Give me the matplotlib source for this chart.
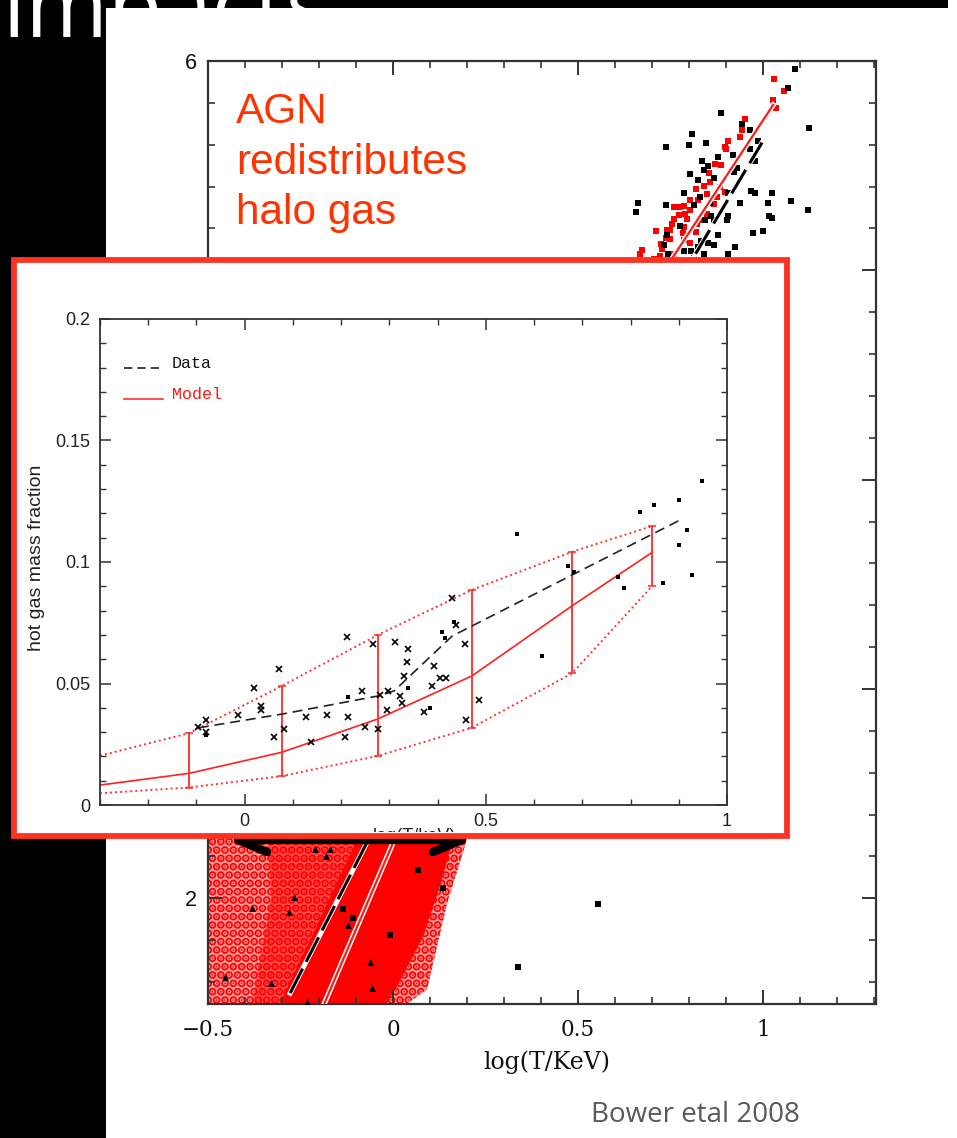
import matplotlib
matplotlib.use("Agg")
import matplotlib.pyplot as plt
from matplotlib.patches import Rectangle, Polygon
from matplotlib.lines import Line2D
from matplotlib.transforms import Bbox, TransformedBbox
from matplotlib.ticker import MultipleLocator

W, H = 957, 1138

# ---------------- main panel data (log Lx vs log T) ----------------
main_xticks = [-0.5, 0, 0.5, 1]
main_xticklabels = ["\u22120.5", "0", "0.5", "1"]
main_yticks = [2, 3, 4, 5, 6]
main_yticklabels = ["2", "3", "4", "5", "6"]
main_xlabel = "log(T/KeV)"

obs_x = [1.086, 1.068, 0.886, 1.124, 0.944, 0.965, 0.807, 0.799, 0.846, 0.738, 0.985, 0.965,
         0.918, 0.878, 0.834, 0.852, 0.839, 0.979, 0.929, 0.803, 0.823, 0.920, 0.866, 0.787,
         0.830, 0.812, 0.906, 0.967, 0.979, 1.023, 0.661, 0.657, 0.737, 0.937, 1.012, 1.075,
         1.120, 1.016, 1.024, 0.906, 0.902, 0.866, 0.860, 0.857, 0.842, 0.776, 0.740, 0.972,
         1.000, 0.878, 0.731, 0.742, 0.832, 0.825, 0.852, 0.866, 0.924, 0.906, 0.805, 0.785,
         0.839, 0.812]
obs_y = [5.96, 5.87, 5.75, 5.68, 5.70, 5.67, 5.65, 5.60, 5.61, 5.59, 5.62, 5.58,
         5.55, 5.54, 5.52, 5.50, 5.48, 5.52, 5.49, 5.46, 5.43, 5.47, 5.44, 5.37,
         5.35, 5.31, 5.37, 5.38, 5.37, 5.37, 5.32, 5.28, 5.31, 5.32, 5.32, 5.33,
         5.29, 5.26, 5.25, 5.26, 5.24, 5.24, 5.26, 5.32, 5.24, 5.21, 5.17, 5.18,
         5.19, 5.17, 5.12, 5.08, 5.14, 5.11, 5.13, 5.12, 5.11, 5.08, 5.09, 5.09,
         5.08, 5.06]

mod_x = [1.030, 1.057, 1.026, 1.035, 0.951, 0.942, 0.937, 0.906, 0.897, 0.900, 0.886, 0.870,
         0.854, 0.857, 0.884, 0.897, 0.839, 0.819, 0.848, 0.803, 0.786, 0.760, 0.776, 0.760,
         0.773, 0.789, 0.794, 0.753, 0.749, 0.740, 0.710, 0.825, 0.803, 0.786, 0.783, 0.749,
         0.737, 0.724, 0.726, 0.674, 0.668, 0.704, 0.722, 0.758, 0.785, 0.803, 0.819, 0.821,
         0.830, 0.848, 0.866, 0.875]
mod_y = [5.914, 5.858, 5.813, 5.774, 5.722, 5.670, 5.638, 5.619, 5.590, 5.579, 5.502, 5.509,
         5.463, 5.423, 5.399, 5.375, 5.404, 5.388, 5.367, 5.335, 5.308, 5.303, 5.303, 5.247,
         5.263, 5.271, 5.247, 5.223, 5.191, 5.191, 5.187, 5.335, 5.287, 5.207, 5.176, 5.152,
         5.156, 5.128, 5.104, 5.099, 5.077, 5.056, 5.067, 5.080, 5.144, 5.131, 5.183, 5.223,
         5.239, 5.271, 5.319, 5.351]

obs_low_sq_x = [-0.136, -0.107, -0.008, 0.067, 0.134, 0.338, 0.554]
obs_low_sq_y = [1.949, 1.906, 1.826, 2.137, 2.050, 1.670, 1.971]
obs_tri_x = [-0.211, -0.170, -0.181, -0.267, -0.382, -0.281, -0.121, -0.062, -0.058, -0.454, -0.330, -0.232]
obs_tri_y = [2.236, 2.236, 2.204, 2.005, 1.954, 1.933, 1.874, 1.694, 1.571, 1.624, 1.595, 1.505]

fit_model_x = [-0.185, 0.0, 0.754, 1.027]
fit_model_y = [1.50, 2.265, 5.057, 5.79]
fit_data_x = [-0.278, -0.071, 0.811, 0.997]
fit_data_y = [1.547, 2.265, 5.06, 5.61]

# extent of the dense cloud of model haloes (outer, intermediate, core)
cloud_outer_x = [-0.5, -0.5, 0.30, 0.200, 0.146, 0.092, 0.040]
cloud_outer_y = [1.5, 2.7, 2.7, 2.282, 1.976, 1.565, 1.5]
cloud_mid_x = [-0.38, -0.33, -0.35, 0.015, -0.305]
cloud_mid_y = [1.5, 2.0, 2.7, 2.7, 1.5]
cloud_core_x = [-0.305, 0.015, 0.25, 0.162, 0.127, 0.081, 0.011, -0.016]
cloud_core_y = [1.5, 2.7, 2.7, 2.282, 2.057, 1.818, 1.579, 1.5]

# ---------------- inset data (hot gas fraction) ----------------
in_xticks = [0, 0.5, 1]
in_xticklabels = ["0", "0.5", "1"]
in_yticks = [0, 0.05, 0.1, 0.15, 0.2]
in_yticklabels = ["0", "0.05", "0.1", "0.15", "0.2"]
in_xlabel = "log(T/keV)"
in_ylabel = "hot gas mass fraction"
legend_labels = ["Data", "Model"]

model_x = [-0.30, -0.116, 0.077, 0.276, 0.471, 0.679, 0.845]
model_y = [0.0082, 0.0130, 0.0217, 0.0354, 0.0531, 0.082, 0.104]
model_hi = [0.0203, 0.0295, 0.049, 0.070, 0.0885, 0.1042, 0.1148]
model_lo = [0.0048, 0.0072, 0.0119, 0.0202, 0.0318, 0.0542, 0.0901]

data_x = [-0.095, 0.077, 0.28, 0.31, 0.43, 0.90]
data_y = [0.0318, 0.0374, 0.045, 0.047, 0.0695, 0.117]

cross_x = [-0.097, -0.081, -0.081, 0.020, -0.014, 0.033, 0.033, 0.071, 0.060, 0.082, 0.127, 0.137,
           0.170, 0.207, 0.214, 0.212, 0.243, 0.250, 0.265, 0.276, 0.281, 0.295, 0.298, 0.311,
           0.322, 0.326, 0.331, 0.336, 0.338, 0.372, 0.388, 0.393, 0.404, 0.418, 0.430, 0.439,
           0.456, 0.459, 0.485]
cross_y = [0.0322, 0.035, 0.030, 0.048, 0.037, 0.0409, 0.0391, 0.0561, 0.0281, 0.0311, 0.0361, 0.0261,
           0.037, 0.0281, 0.0361, 0.069, 0.047, 0.0322, 0.0661, 0.0311, 0.0453, 0.0391, 0.047, 0.0671,
           0.045, 0.0418, 0.0531, 0.059, 0.0641, 0.0381, 0.0491, 0.057, 0.0521, 0.0521, 0.085, 0.0741,
           0.0661, 0.035, 0.0432]
sq_x = [-0.081, 0.214, 0.338, 0.385, 0.409, 0.416, 0.433, 0.670, 0.682, 0.775, 0.786, 0.867,
        0.928, 0.616, 0.564, 0.820, 0.848, 0.901, 0.948, 0.917, 0.900]
sq_y = [0.029, 0.0443, 0.0483, 0.0398, 0.0711, 0.0689, 0.0754, 0.0984, 0.096, 0.0937, 0.0892, 0.0915,
        0.0947, 0.0613, 0.1115, 0.1204, 0.1235, 0.1255, 0.1335, 0.1132, 0.107]

annotation_lines = ["AGN", "redistributes", "halo gas"]
credit = "Bower etal 2008"
title_fragment = "impacts"


def fx(px):
    return px / W


def fy(py):
    return 1 - py / H


plt.rcParams['hatch.linewidth'] = 4.2
fig = plt.figure(figsize=(W / 100, H / 100), dpi=100, facecolor="black")

# slide title fragment (white on black): only the lower part of the glyphs shows
t = fig.text(fx(3), fy(37), title_fragment, color="white", fontsize=64,
             family="Open Sans", va="baseline", ha="left", zorder=0.2)
t.set_clip_box(TransformedBbox(Bbox([[0, fy(37)], [1, 1]]), fig.transFigure))
t.set_clip_on(True)

# white slide picture area
fig.add_artist(Rectangle((fx(106), 0), 1 - fx(106), fy(8), transform=fig.transFigure,
                         facecolor="white", edgecolor="none", zorder=0.5))
fig.add_artist(Rectangle((fx(948), fy(8)), 1 - fx(948), 8 / H, transform=fig.transFigure,
                         facecolor="white", edgecolor="none", zorder=0.5))

# ---------------- main axes ----------------
ax = fig.add_axes([fx(208), fy(1004), (876 - 208) / W, (1004 - 61) / H], zorder=1)
ax.set_xlim(-0.5, 1.305)
ax.set_ylim(1.495, 6)

ax.add_patch(Polygon(list(zip(cloud_outer_x, cloud_outer_y)), closed=True,
                     facecolor="#ff9a9a", edgecolor="red", hatch="..", lw=0, zorder=1))
ax.add_patch(Polygon(list(zip(cloud_mid_x, cloud_mid_y)), closed=True,
                     facecolor="#ff4a4a", edgecolor="red", hatch="..", lw=0, zorder=1.1))
ax.add_patch(Polygon(list(zip(cloud_core_x, cloud_core_y)), closed=True,
                     facecolor="red", edgecolor="none", lw=0, zorder=1.2))

ax.scatter(mod_x, mod_y, marker="s", s=20, color="red", linewidths=0, zorder=2)
ax.scatter(obs_x, obs_y, marker="s", s=18, color="black", linewidths=0, zorder=2.5)

ax.plot(fit_model_x, fit_model_y, color="white", lw=3.8, zorder=3)
ax.plot(fit_model_x, fit_model_y, color="#ff1a1a", lw=1.6, zorder=3.1)
ax.plot(fit_data_x, fit_data_y, color="white", lw=3.6, zorder=3.2)
ax.plot(fit_data_x, fit_data_y, color="black", lw=2.2, dashes=(9, 2.5), zorder=3.3)

ax.scatter(obs_tri_x, obs_tri_y, marker="^", s=24, color="black", linewidths=0, zorder=4)
ax.scatter(obs_low_sq_x, obs_low_sq_y, marker="s", s=18, color="black", linewidths=0, zorder=4)

ax.set_xticks(main_xticks, main_xticklabels, family="DejaVu Serif", fontsize=15.5)
ax.set_yticks(main_yticks, main_yticklabels, family="Liberation Sans", fontsize=15.5)
ax.xaxis.set_minor_locator(MultipleLocator(0.1))
ax.yaxis.set_minor_locator(MultipleLocator(0.2))
ax.tick_params(which="both", direction="in", top=True, right=True, color="#333333",
               labelcolor="#111111")
ax.tick_params(which="major", length=10, width=1.4)
ax.tick_params(which="minor", length=5, width=1.2)
ax.tick_params(axis="x", pad=11)
ax.tick_params(axis="y", pad=8)
for sp in ax.spines.values():
    sp.set_linewidth(1.6)
    sp.set_color("#333333")

fig.text(fx(547), fy(1062), main_xlabel, family="DejaVu Serif", fontsize=17,
         ha="center", va="center", color="#111111", zorder=5)

for i, line in enumerate(annotation_lines):
    fig.text(fx(236), fy(123 + 50.5 * i), line, color="#FF3300", fontsize=30.5,
             family="Liberation Sans", ha="left", va="baseline", zorder=5)

fig.text(fx(695), fy(1122), credit, color="#595959", fontsize=20, family="Open Sans",
         ha="center", va="baseline", zorder=5)

# black bracket shape below the inset frame
fig.add_artist(Line2D([fx(267), fx(238), fx(462), fx(433)],
                      [fy(852), fy(840), fy(840), fy(852)],
                      transform=fig.transFigure, color="black", lw=6,
                      solid_capstyle="round", solid_joinstyle="round", zorder=1.5))

# inset panel with red frame
fig.add_artist(Rectangle((fx(14), fy(835.5)), (786.5 - 14) / W, (835.5 - 259.5) / H,
                         transform=fig.transFigure, facecolor="white", edgecolor="#FF3322",
                         lw=4.2, zorder=2))

# ---------------- inset axes ----------------
ai = fig.add_axes([fx(100), fy(805), (727 - 100) / W, (805 - 319) / H], zorder=3)
ai.set_xlim(-0.3, 1.0)
ai.set_ylim(0, 0.2)

ai.plot(model_x, model_hi, color="#ff3030", lw=1.4, ls=(0, (1, 1.6)), zorder=2)
ai.plot(model_x, model_lo, color="#ff3030", lw=1.4, ls=(0, (1, 1.6)), zorder=2)
ai.plot(model_x, model_y, color="#ff2020", lw=1.2, zorder=2.5)
for xv, lo, hi in zip(model_x[1:], model_lo[1:], model_hi[1:]):
    ai.errorbar([xv], [(lo + hi) / 2], yerr=[[(hi - lo) / 2], [(hi - lo) / 2]], fmt="none",
                ecolor="#ff2a2a", elinewidth=1.3, capsize=3, capthick=1.1, zorder=2.6)
ai.plot(data_x, data_y, color="#222222", lw=1.2, dashes=(6, 3.5), zorder=3)
ai.plot(cross_x, cross_y, ls="none", marker="x", ms=4.5, mew=1.2, color="black", zorder=4)
ai.plot(sq_x, sq_y, ls="none", marker="s", ms=2.8, mew=0, color="black", zorder=4)

# legend
ai.plot([0.038, 0.094], [0.899, 0.899], transform=ai.transAxes, color="#222222", lw=1.2,
        dashes=(5, 3))
ai.plot([0.038, 0.100], [0.835, 0.835], transform=ai.transAxes, color="#ff3030", lw=1.2)
ai.text(0.115, 0.909, legend_labels[0], transform=ai.transAxes, family="Liberation Mono",
        fontsize=12, color="#111111", va="center", ha="left")
ai.text(0.115, 0.844, legend_labels[1], transform=ai.transAxes, family="Liberation Mono",
        fontsize=12, color="#ff1a1a", va="center", ha="left")

ai.set_xticks(in_xticks, in_xticklabels, family="Liberation Sans", fontsize=13)
ai.set_yticks(in_yticks, in_yticklabels, family="Liberation Sans", fontsize=13)
ai.xaxis.set_minor_locator(MultipleLocator(0.1))
ai.yaxis.set_minor_locator(MultipleLocator(0.01))
ai.tick_params(which="both", direction="in", top=True, right=True, color="#333333",
               labelcolor="#222222")
ai.tick_params(which="major", length=8, width=1.1)
ai.tick_params(which="minor", length=4, width=1.0)
ai.tick_params(axis="x", pad=6)
ai.tick_params(axis="y", pad=7)
for sp in ai.spines.values():
    sp.set_linewidth(1.3)
    sp.set_color("#333333")

fig.text(fx(37), fy(558), in_ylabel, rotation=90, family="Liberation Sans", fontsize=14,
         ha="center", va="center", color="#222222", zorder=5)
xl = fig.text(fx(414), fy(828), in_xlabel, family="Liberation Sans", fontsize=13,
              ha="center", va="top", color="#222222", zorder=5)
xl.set_clip_box(TransformedBbox(Bbox([[0, fy(832)], [1, 1]]), fig.transFigure))
xl.set_clip_on(True)

fig.savefig("out.png", dpi=100, facecolor=fig.get_facecolor())
